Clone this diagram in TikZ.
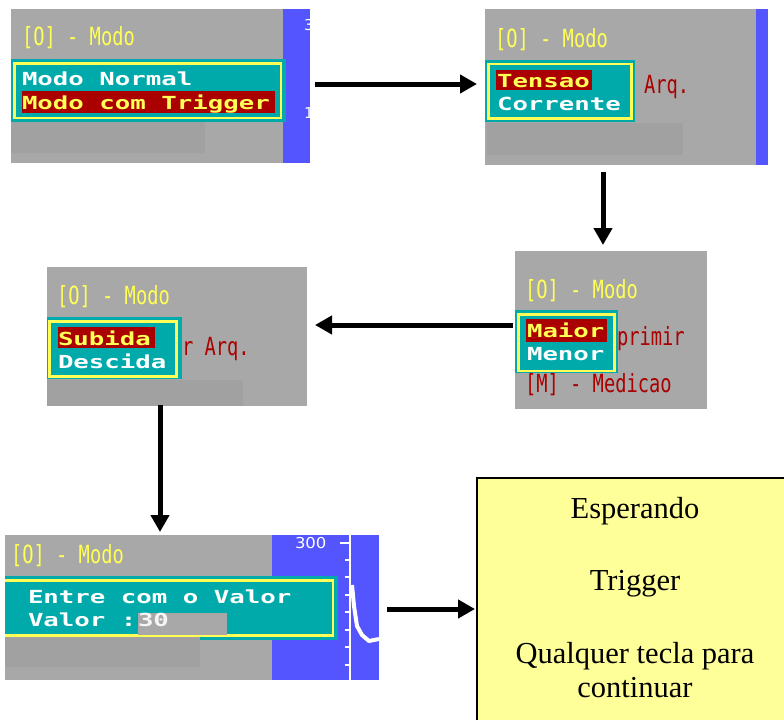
\documentclass[tikz,border=0pt]{standalone}
\usepackage{fontspec}
\usepackage{graphicx}
\setmainfont{Liberation Serif}
\newfontfamily\pixfont{DejaVu Sans Mono}
\newfontfamily\axfont{DejaVu Sans}
\usetikzlibrary{arrows.meta,calc}
\definecolor{scrgray}{HTML}{A8A8A8}
\definecolor{boxgray}{HTML}{A1A1A1}
\definecolor{scrblue}{HTML}{5555FF}
\definecolor{tealc}{HTML}{00AAAA}
\definecolor{yel}{HTML}{FFFF55}
\definecolor{dred}{HTML}{AA0000}
\definecolor{note}{HTML}{FFFF99}
\newcommand{\pixthin}[1]{{\pixfont\fontsize{25}{25}\selectfont\scalebox{0.75}[1]{#1}}}
\newcommand{\pixbold}[1]{{\pixfont\bfseries\fontsize{18}{18}\selectfont\scalebox{1.43}[1]{#1}}}
\begin{document}
\begin{tikzpicture}[x=1pt,y=-1pt,
  screen/.style={rectangle,fill=scrgray,inner sep=0,outer sep=0},
  lbl/.style={inner sep=0,outer sep=0,anchor=base west},
  arr/.style={line width=5pt,-{Triangle[length=17pt,width=18pt]}},
  menu/.style={fill=tealc},
  menuframe/.style={draw=yel,line width=2.5pt},
  notetxt/.style={inner sep=0,anchor=base,font=\fontsize{30.5}{36}\selectfont}]
\useasboundingbox (0,0) rectangle (784,720);

% ---------- panel 1
\node[screen,minimum width=299,minimum height=154] (p1) at (160.5,86) {};
\fill[scrblue] (283,9) rectangle (310,163);
\begin{scope}
\clip (283,9) rectangle (310,163);
\node[lbl,text=white] (p1n1) at (304,30) {\axfont\fontsize{15}{15}\selectfont 300};
\node[lbl,text=white] (p1n2) at (304,118) {\axfont\fontsize{15}{15}\selectfont 100};
\end{scope}
\node[lbl,text=yel] (p1t) at (22,45) {\pixthin{[O] - Modo}};
\fill[menu] (11,59) rectangle (286,122);
\draw[menuframe] (14.7,63.5) rectangle (281,118);
\fill[boxgray] (11,122) rectangle (205,153);
\node[lbl,text=white] (p1a) at (22,85) {\pixbold{Modo Normal}};
\fill[dred] (22,91) rectangle (275,113);
\node[lbl,text=yel] (p1b) at (22,109) {\pixbold{Modo com Trigger}};

% ---------- panel 2
\node[screen,minimum width=283,minimum height=156] (p2) at (626.5,87) {};
\fill[scrblue] (756,9) rectangle (768,165);
\node[lbl,text=yel] (p2t) at (495,47) {\pixthin{[O] - Modo}};
\node[lbl,text=dred] (p2r) at (644,93) {\pixthin{Arq.}};
\fill[menu] (485,60) rectangle (635,122);
\draw[menuframe] (488.5,64) rectangle (631.5,118.5);
\fill[boxgray] (487,123) rectangle (683,155);
\fill[dred] (496,70) rectangle (592,90);
\node[lbl,text=yel] (p2a) at (497,87) {\pixbold{Tensao}};
\node[lbl,text=white] (p2b) at (497,110) {\pixbold{Corrente}};

% ---------- panel 3
\node[screen,minimum width=192,minimum height=158] (p3) at (611,330) {};
\node[lbl,text=yel] (p3t) at (525,298) {\pixthin{[O] - Modo}};
\node[lbl,text=dred] (p3r) at (617,345) {\pixthin{primir}};
\node[lbl,text=dred] (p3m) at (525,392) {\pixthin{[M] - Medicao}};
\fill[menu] (515,310) rectangle (618,373);
\draw[menuframe] (518.5,314.5) rectangle (614.5,371);
\fill[dred] (526,319) rectangle (607,342);
\node[lbl,text=yel] (p3a) at (527,337) {\pixbold{Maior}};
\node[lbl,text=white] (p3b) at (527,360) {\pixbold{Menor}};

% ---------- panel 4
\node[screen,minimum width=260,minimum height=139] (p4) at (177,336.5) {};
\node[lbl,text=yel] (p4t) at (57,304) {\pixthin{[O] - Modo}};
\node[lbl,text=dred] (p4r) at (182,355) {\pixthin{r Arq.}};
\fill[menu] (47,317) rectangle (182,379);
\draw[menuframe] (49.7,321.3) rectangle (176.3,376.3);
\fill[boxgray] (47,380) rectangle (243,406);
\fill[dred] (58,327) rectangle (155,348);
\node[lbl,text=yel] (p4a) at (58,345) {\pixbold{Subida}};
\node[lbl,text=white] (p4b) at (58,368) {\pixbold{Descida}};

% ---------- panel 5
\node[screen,minimum width=374,minimum height=145] (p5) at (192,607.5) {};
\fill[scrblue] (272,535) rectangle (379,680);
\node[lbl,text=white] (p5n) at (295,548) {\axfont\fontsize{15}{15}\selectfont\scalebox{1.1}[1]{300}};
\draw[white,line width=1.5pt] (350,535) -- (350,680);
\draw[white,line width=1.5pt] (340,543) -- (350,543);
\foreach \ty in {560,577,595,612,630,647,665}
  \draw[white,line width=1.5pt] (345,\ty) -- (350,\ty);
\draw[white,line width=4pt,line join=round]
  (352,585) -- (354,606) -- (357,626) -- (362,635) -- (369,641) -- (379,639);
\node[lbl,text=yel] (p5t) at (11,563) {\pixthin{[O] - Modo}};
\fill[menu] (5,576) rectangle (338,640);
\draw[draw=yel,line width=2.5pt] (5,580.5) -- (333,580.5) -- (333,635.5) -- (5,635.5);
\fill[boxgray] (5,637) rectangle (200,667);
\node[lbl,text=white] (p5a) at (28,603) {\pixbold{Entre com o Valor}};
\node[lbl,text=white] (p5b) at (28,626) {\pixbold{Valor :}};
\fill[scrgray] (138,613) rectangle (227,635);
\node[lbl,text=white!92!gray] (p5c) at (138,626) {\pixbold{30}};

% ---------- note box
\node[fill=note,inner sep=0,outer sep=0,anchor=north west,minimum width=307,minimum height=242] (wait) at (477,478) {};
\draw[line width=1.5pt] (wait.south west) -- (wait.north west) -- (wait.north east);
\node[notetxt] (w1) at (635,518) {Esperando};
\node[notetxt] (w2) at (635,590) {Trigger};
\node[notetxt] (w3) at (635,663) {Qualquer tecla para};
\node[notetxt] (w4) at (635,697) {continuar};

% ---------- arrows
\draw[arr] ($(p1.east)+(5,-2)$) -- ($(p2.west)+(-8,-3)$);
\draw[arr] ($(p2.south)+(-23.5,7)$) -- ($(p3.north)+(-8,-6)$);
\draw[arr] ($(p3.west)+(-2,-5)$) -- ($(p4.east)+(8,-11.5)$);
\draw[arr] ($(p4.south)+(-17,-1)$) -- ($(p5.north)+(-32,-3)$);
\draw[arr] ($(p5.east)+(8,1.5)$) -- ($(wait.west)+(-2,10)$);
\end{tikzpicture}
\end{document}
